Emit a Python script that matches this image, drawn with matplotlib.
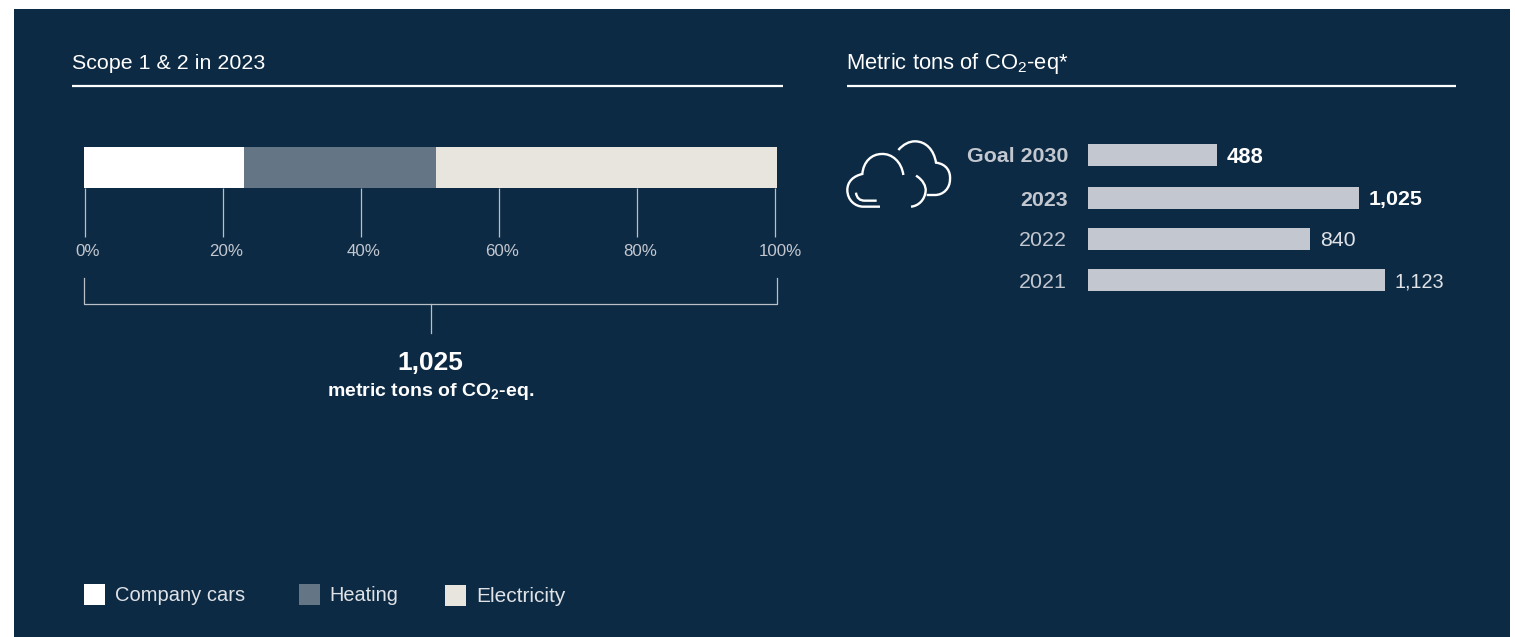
import matplotlib
matplotlib.use("Agg")
import matplotlib.pyplot as plt
from matplotlib.patches import PathPatch, Rectangle
from matplotlib.path import Path

plt.rcParams["font.family"] = ["Liberation Sans", "DejaVu Sans"]
plt.rcParams["mathtext.default"] = "regular"

W, H = 1515, 637

# data
sources = ["Company cars", "Heating", "Electricity"]
shares = [23.1, 27.7, 49.2]
share_ticks = [0, 20, 40, 60, 80, 100]
share_labels = ["0%", "20%", "40%", "60%", "80%", "100%"]
years = ["Goal 2030", "2023", "2022", "2021"]
tons = [488, 1025, 840, 1123]
ton_labels = ["488", "1,025", "840", "1,123"]
total_label = "1,025"

# styles
NAVY = "#0d2a44"
WHITE = "#ffffff"
GREY = "#c3c7cf"
TICK = "#b9bfc7"
source_colors = ["#ffffff", "#647585", "#e8e4de"]
bar_centres = [155, 198, 239, 280]  # pixels, rows are not evenly spaced
year_weights = ["bold", "bold", "normal", "normal"]
year_pad = [14.4, 14.4, 15.5, 15.5]
value_colors = [WHITE, WHITE, "#dfe2e6", "#dfe2e6"]
value_sizes = [15.8, 15.4, 15.4, 14.2]


def px_axes(x0, x1, y0, y1):
    ax = fig.add_axes([x0 / W, 1 - y1 / H, (x1 - x0) / W, (y1 - y0) / H])
    ax.patch.set_alpha(0)
    for s in ax.spines.values():
        s.set_visible(False)
    return ax


fig = plt.figure(figsize=(W / 100, H / 100), dpi=100, facecolor="white")

# overlay in pixel coordinates for panel, rules, text and icon
over = px_axes(0, W, 0, H)
over.set_xlim(0, W)
over.set_ylim(H, 0)
over.axis("off")
over.add_patch(Rectangle((14, 9), 1496, 628, color=NAVY, lw=0, zorder=0))

over.text(72, 69, "Scope 1 & 2 in 2023", color=WHITE, fontsize=15.4, va="baseline")
over.text(846.5, 69, "Metric tons of CO$_2$-eq*", color=WHITE, fontsize=15.8, va="baseline")
over.plot([72, 783], [85.5, 85.5], color=WHITE, lw=1.6, solid_capstyle="butt")
over.plot([847, 1456], [85.5, 85.5], color=WHITE, lw=1.6, solid_capstyle="butt")

# stacked bar
stack = px_axes(84, 777, 147, 188)
stack.set_xlim(0, 100)
stack.set_ylim(0, 1)
stack.axis("off")
left = 0
for share, color in zip(shares, source_colors):
    stack.barh(0.5, share, left=left, height=1, color=color, lw=0)
    left += share

# percent scale under the bar
scale = px_axes(85, 775, 188, 237)
scale.set_xlim(0, 100)
scale.set_ylim(0, 1)
scale.set_yticks([])
scale.set_xticks(share_ticks)
scale.set_xticklabels([])
scale.tick_params(axis="x", length=0)
scale.vlines(share_ticks, 0, 1, color=TICK, lw=0.9, clip_on=False)
for t, lab in zip(share_ticks, share_labels):
    nudge = 5 if t == 100 else 3
    scale.annotate(lab, (t, 0), xytext=(nudge * 0.72, -19 * 0.72), textcoords="offset points",
                   ha="center", va="baseline", color=GREY, fontsize=12.2)

# bracket
over.plot([84, 84, 777, 777], [278, 304, 304, 278], color=TICK, lw=0.9)
over.plot([430.5, 430.5], [304, 333], color=TICK, lw=0.9)
over.text(430.5, 370, total_label, color=WHITE, fontsize=19, fontweight="bold", ha="center", va="baseline")
over.text(430.5, 396, "metric tons of CO$_2$-eq.", color=WHITE, fontsize=14, fontweight="bold",
          ha="center", va="baseline")

# horizontal bars, axis scaled to 0.2645 px per ton
x0 = 1088
xmax = 1200
bars = px_axes(x0, x0 + xmax * 0.2645, 0, H)
bars.set_xlim(0, xmax)
bars.set_ylim(H, 0)
bars.axis("off")
bars.barh(bar_centres, tons, height=22, color=GREY, lw=0)
for y, v, lab, weight, c, size in zip(bar_centres, tons, ton_labels, year_weights, value_colors, value_sizes):
    bars.annotate(lab, (v, y), xytext=(7, 0), textcoords="offset points", ha="left", va="center_baseline",
                  color=c, fontsize=size, fontweight=weight)
for y, lab, weight, pad in zip(bar_centres, years, year_weights, year_pad):
    bars.annotate(lab, (0, y), xytext=(-pad, 0), textcoords="offset points", ha="right", va="center_baseline",
                  color=GREY, fontsize=15.4, fontweight=weight)


def z(x, y):
    return (830 + x / 3, 40 + y / 3)


M, L, C = Path.MOVETO, Path.LINETO, Path.CURVE4
icon = [
    [(M, (205, 330)), (C, (220, 313)), (C, (237, 304)), (C, (255, 304)),
     (C, (288, 304)), (C, (312, 330)), (C, (318, 368)),
     (C, (350, 372)), (C, (362, 395)), (C, (360, 418)),
     (C, (360, 445)), (C, (340, 465)), (C, (315, 465)), (L, (290, 465))],
    [(M, (220, 405)), (C, (215, 365)), (C, (185, 340)), (C, (155, 342)),
     (C, (125, 342)), (C, (100, 365)), (C, (97, 402)),
     (C, (70, 408)), (C, (52, 425)), (C, (52, 450)),
     (C, (52, 480)), (C, (75, 500)), (C, (100, 500)), (L, (150, 500))],
    [(M, (78, 458)), (C, (80, 475)), (C, (90, 482)), (C, (105, 482)), (L, (140, 482))],
    [(M, (258, 407)), (C, (280, 420)), (C, (288, 440)), (C, (287, 452)),
     (C, (285, 480)), (C, (265, 498)), (C, (243, 500))],
]
for stroke in icon:
    codes = [c for c, _ in stroke]
    verts = [z(*p) for _, p in stroke]
    over.add_patch(PathPatch(Path(verts, codes), fc="none", ec=WHITE, lw=1.7))

# legend
legend_boxes = [84, 299, 445]
legend_tops = [584, 584, 585]
legend_text_x = [115, 329, 476]
legend_sizes = [14.5, 14.3, 15]
for name, color, bx, top, tx, size in zip(sources, source_colors, legend_boxes, legend_tops, legend_text_x, legend_sizes):
    over.add_patch(Rectangle((bx, top), 21, 21, color=color, lw=0))
    over.text(tx, top + 17, name, color="#dfe2e6", fontsize=size, va="baseline")

fig.savefig("out.png", dpi=100, facecolor=fig.get_facecolor())
